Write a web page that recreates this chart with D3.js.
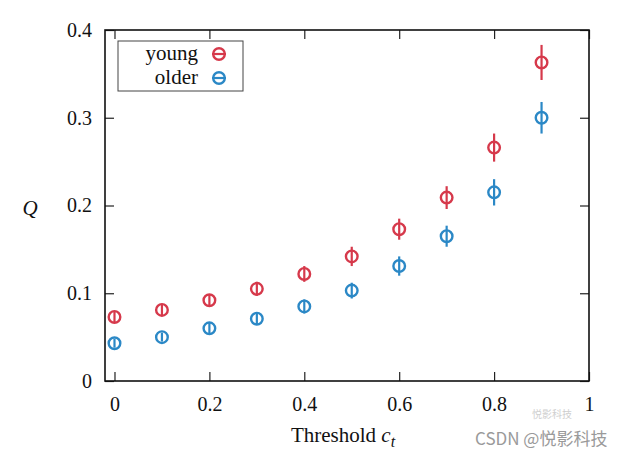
<!DOCTYPE html>
<html>
<head>
<meta charset="utf-8">
<script src="https://cdn.jsdelivr.net/npm/d3@7"></script>
<style>
  html, body { margin: 0; padding: 0; background: #fff; }
  svg { display: block; }
</style>
</head>
<body>
<svg id="chart" width="636" height="453"></svg>
<script>
// ---- data ----
const thresholds = [0, 0.1, 0.2, 0.3, 0.4, 0.5, 0.6, 0.7, 0.8, 0.9];
const youngQ   = [0.073, 0.081, 0.092, 0.105, 0.122, 0.142, 0.173, 0.209, 0.266, 0.363];
const youngErr = [0.006, 0.007, 0.007, 0.008, 0.009, 0.011, 0.012, 0.013, 0.016, 0.020];
const olderQ   = [0.043, 0.050, 0.060, 0.071, 0.085, 0.103, 0.131, 0.165, 0.215, 0.300];
const olderErr = [0.005, 0.005, 0.006, 0.007, 0.008, 0.009, 0.011, 0.012, 0.015, 0.018];
const xTicks = [0, 0.2, 0.4, 0.6, 0.8, 1];
const yTicks = [0, 0.1, 0.2, 0.3, 0.4];
const seriesNames = ["young", "older"];
const seriesColors = ["#d6394b", "#2b88c6"];

// ---- layout ----
const svg = d3.select("#chart");
const L = 105, R = 589, T = 30, B = 381;
const x = d3.scaleLinear().domain([-0.02, 1]).range([L, R]);
const y = d3.scaleLinear().domain([0, 0.4]).range([B, T]);
const font = "'Liberation Serif', 'Times New Roman', serif";
const tickLen = 9;

// axes (ticks inward, mirrored)
const gx = svg.append("g").attr("transform", `translate(0,${B})`)
  .call(d3.axisBottom(x).tickValues(xTicks).tickSize(-tickLen).tickPadding(16)
    .tickFormat(d => d === 0 ? "0" : d === 1 ? "1" : d3.format(".1f")(d)));
const gxt = svg.append("g").attr("transform", `translate(0,${T})`)
  .call(d3.axisTop(x).tickValues(xTicks).tickSize(-tickLen).tickFormat(""));
const gy = svg.append("g").attr("transform", `translate(${L},0)`)
  .call(d3.axisLeft(y).tickValues(yTicks).tickSize(-tickLen).tickPadding(13)
    .tickFormat(d => d === 0 ? "0" : d3.format(".1f")(d)));
const gyr = svg.append("g").attr("transform", `translate(${R},0)`)
  .call(d3.axisRight(y).tickValues(yTicks).tickSize(-tickLen).tickFormat(""));

[gx, gxt, gy, gyr].forEach(g => {
  g.select(".domain").remove();
  g.selectAll(".tick line").attr("stroke", "#222").attr("stroke-width", 1.2);
  g.selectAll("text").attr("font-family", font).attr("font-size", 20).attr("fill", "#111");
});

// frame
svg.append("rect").attr("x", L).attr("y", T).attr("width", R - L).attr("height", B - T)
  .attr("fill", "none").attr("stroke", "#111").attr("stroke-width", 1.6);

// axis titles
const xt = svg.append("text").attr("x", 343).attr("y", 442).attr("text-anchor", "middle")
  .attr("font-family", font).attr("font-size", 21).attr("fill", "#111");
xt.append("tspan").text("Threshold ");
xt.append("tspan").attr("font-style", "italic").text("c");
xt.append("tspan").attr("font-style", "italic").attr("font-size", 16).attr("dy", 5).text("t");

svg.append("text").attr("x", 30).attr("y", 215).attr("text-anchor", "middle")
  .attr("font-family", font).attr("font-size", 21).attr("font-style", "italic")
  .attr("fill", "#111").text("Q");

// data
const series = [
  { name: seriesNames[0], vals: youngQ, errs: youngErr, color: seriesColors[0] },
  { name: seriesNames[1], vals: olderQ, errs: olderErr, color: seriesColors[1] }
];
const r = 5.8;
series.forEach(s => {
  const g = svg.append("g");
  const pts = thresholds.map((t, i) => ({ t, v: s.vals[i], e: s.errs[i] }));
  g.selectAll("line.err").data(pts).join("line").attr("class", "err")
    .attr("x1", d => x(d.t)).attr("x2", d => x(d.t))
    .attr("y1", d => y(d.v - d.e)).attr("y2", d => y(d.v + d.e))
    .attr("stroke", s.color).attr("stroke-width", 2.2);
  g.selectAll("circle").data(pts).join("circle")
    .attr("cx", d => x(d.t)).attr("cy", d => y(d.v)).attr("r", r)
    .attr("fill", "none").attr("stroke", s.color).attr("stroke-width", 2.4);
});

// legend
svg.append("rect").attr("x", 118).attr("y", 41).attr("width", 125).attr("height", 50)
  .attr("fill", "#fff").attr("stroke", "#444").attr("stroke-width", 1);
series.forEach((s, i) => {
  const cy = 54 + i * 24;
  svg.append("text").attr("x", 198).attr("y", cy + 6).attr("text-anchor", "end")
    .attr("font-family", font).attr("font-size", 21).attr("fill", "#111").text(s.name);
  svg.append("line").attr("x1", 212).attr("x2", 226).attr("y1", cy).attr("y2", cy)
    .attr("stroke", s.color).attr("stroke-width", 2.2);
  svg.append("circle").attr("cx", 219).attr("cy", cy).attr("r", r)
    .attr("fill", "none").attr("stroke", s.color).attr("stroke-width", 2.4);
});

// watermark
svg.append("text").attr("x", 532).attr("y", 418).attr("font-family", "'Noto Sans CJK SC', sans-serif")
  .attr("font-size", 10).attr("fill", "#cfcfcf").text("悦影科技");
svg.append("text").attr("x", 475).attr("y", 445).attr("font-family", "'Noto Sans CJK SC', sans-serif")
  .attr("font-size", 17).attr("fill", "#9a9a9a").text("CSDN @悦影科技");
</script>
</body>
</html>
